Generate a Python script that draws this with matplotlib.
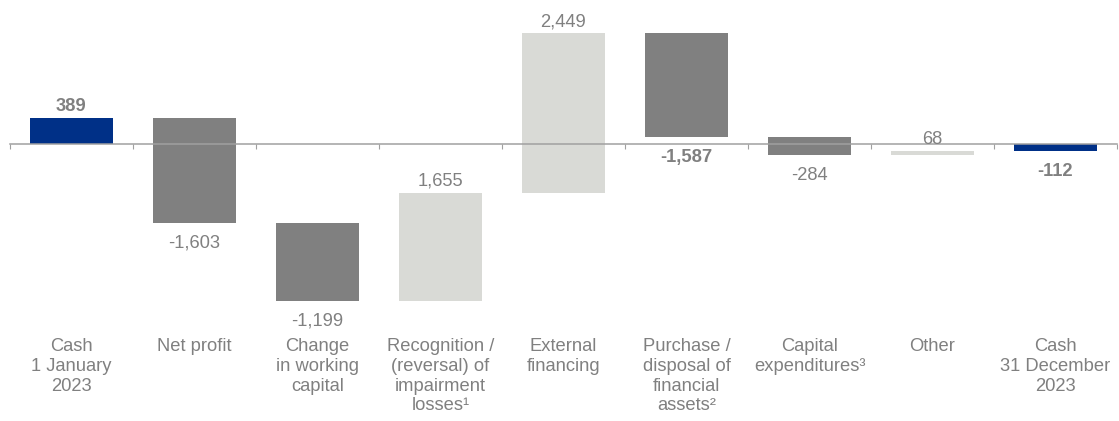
import matplotlib
matplotlib.use("Agg")
import matplotlib.pyplot as plt
from matplotlib.ticker import FixedLocator, NullLocator

# Cash flow bridge 2023 (in millions)
categories = [
    "Cash\n1 January\n2023",
    "Net profit",
    "Change\nin working\ncapital",
    "Recognition /\n(reversal) of\nimpairment\nlosses\u00b9",
    "External\nfinancing",
    "Purchase /\ndisposal of\nfinancial\nassets\u00b2",
    "Capital\nexpenditures\u00b3",
    "Other",
    "Cash\n31 December\n2023",
]
values = [389, -1603, -1199, 1655, 2449, -1587, -284, 68, -112]
is_total = [True, False, False, False, False, False, False, False, True]
bold_label = [True, False, False, False, False, True, False, False, True]

BLUE = "#003087"
DARK = "#808080"
LIGHT = "#D9DAD6"
TEXT = "#808080"
AXIS = "#A0A0A0"

plt.rcParams["font.family"] = ["Liberation Sans", "DejaVu Sans"]

fig = plt.figure(figsize=(11.19, 4.21), dpi=100)
ax = fig.add_axes([0, 0, 1, 1])

running = 0
bottoms, heights, colors = [], [], []
for v, tot in zip(values, is_total):
    if tot:
        bottoms.append(0)
        heights.append(v)
        colors.append(BLUE)
        running = v
    else:
        bottoms.append(running)
        heights.append(v)
        colors.append(LIGHT if v > 0 else DARK)
        running += v

x = list(range(len(categories)))
ax.bar(x, heights, bottom=bottoms, width=0.68, color=colors, zorder=1)

# value labels: above the bar for increases, below for decreases
for xi, b, h, v, bold in zip(x, bottoms, heights, values, bold_label):
    top = max(b, b + h)
    low = min(b, b + h)
    weight = "bold" if bold else "normal"
    if v > 0:
        ax.annotate(f"{v:,}", (xi, top), xytext=(0, 5), textcoords="offset points",
                    ha="center", va="baseline", fontsize=13.2, color=TEXT, fontweight=weight)
    else:
        ax.annotate(f"{v:,}", (xi, low), xytext=(0, -8.5), textcoords="offset points",
                    ha="center", va="top", fontsize=13.2, color=TEXT, fontweight=weight)

# category labels under the chart
for xi, cat in zip(x, categories):
    ax.text(xi, 0.196, cat, transform=ax.get_xaxis_transform(), ha="center", va="top",
            fontsize=13.2, color=TEXT, linespacing=1.2)

ax.set_xlim(-0.581, 8.516)
ax.set_ylim(-4256, 2201)

for side in ("top", "right", "left"):
    ax.spines[side].set_visible(False)
ax.spines["bottom"].set_position(("data", 0))
ax.spines["bottom"].set_bounds(-0.5, 8.5)
ax.spines["bottom"].set_color(AXIS)
ax.spines["bottom"].set_linewidth(1.1)
ax.xaxis.set_major_locator(FixedLocator([i - 0.5 for i in range(len(categories) + 1)]))
ax.xaxis.set_minor_locator(NullLocator())
ax.tick_params(axis="x", direction="out", length=3.5, width=0.8, color=AXIS, labelbottom=False)
ax.yaxis.set_visible(False)

fig.savefig("out.png", dpi=100)
